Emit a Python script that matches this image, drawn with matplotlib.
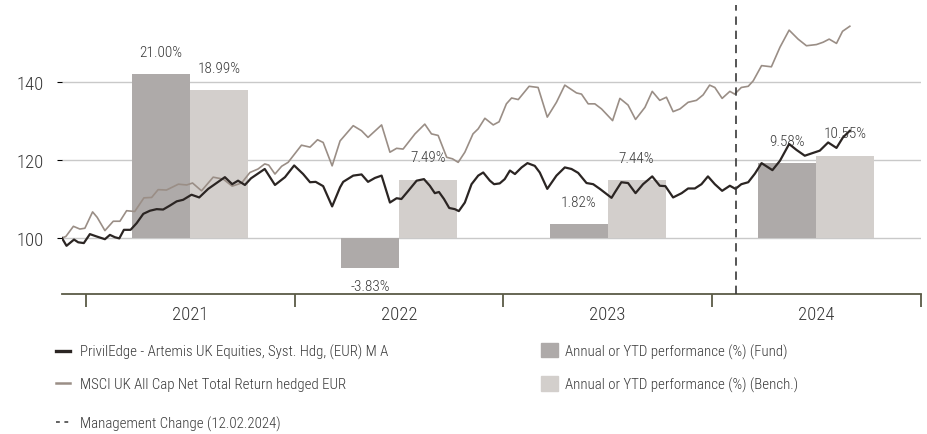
import matplotlib
matplotlib.use("Agg")
import matplotlib.pyplot as plt
from matplotlib import font_manager
from matplotlib.lines import Line2D
from matplotlib.patches import Patch

# pick a narrow sans face if one is installed
installed = {f.name for f in font_manager.fontManager.ttflist}
for name in ["Liberation Sans Narrow", "Roboto Condensed", "Open Sans Condensed", "Liberation Sans"]:
    if name in installed:
        FONT = name
        break
else:
    FONT = "DejaVu Sans"
plt.rcParams["font.family"] = [FONT, "DejaVu Sans"]
plt.rcParams["font.weight"] = "light"

# indexed performance (start = 100), dates as decimal years
fund_dates = [2020.885, 2020.907, 2020.943, 2020.963, 2020.990, 2021.019, 2021.051, 2021.091,
              2021.115, 2021.139, 2021.160, 2021.182, 2021.214, 2021.243, 2021.275, 2021.307,
              2021.339, 2021.370, 2021.402, 2021.435, 2021.466, 2021.506, 2021.543, 2021.586,
              2021.634, 2021.666, 2021.701, 2021.729, 2021.762, 2021.791, 2021.857, 2021.906,
              2021.954, 2021.998, 2022.041, 2022.074, 2022.101, 2022.137, 2022.180, 2022.218,
              2022.233, 2022.281, 2022.321, 2022.352, 2022.385, 2022.417, 2022.457, 2022.489,
              2022.512, 2022.545, 2022.585, 2022.620, 2022.648, 2022.672, 2022.692, 2022.716,
              2022.741, 2022.768, 2022.787, 2022.816, 2022.848, 2022.880, 2022.904, 2022.936,
              2022.956, 2022.983, 2023.007, 2023.032, 2023.056, 2023.088, 2023.116, 2023.151,
              2023.175, 2023.211, 2023.255, 2023.295, 2023.327, 2023.359, 2023.399, 2023.431,
              2023.463, 2023.519, 2023.535, 2023.566, 2023.598, 2023.634, 2023.670, 2023.714,
              2023.750, 2023.777, 2023.814, 2023.855, 2023.886, 2023.918, 2023.950, 2023.981,
              2024.014, 2024.049, 2024.086, 2024.113, 2024.141, 2024.174, 2024.206, 2024.238,
              2024.290, 2024.326, 2024.370, 2024.405, 2024.445, 2024.478, 2024.517, 2024.557,
              2024.597, 2024.628, 2024.661]
fund_index = [100.0, 98.0, 99.6, 98.9, 98.7, 101.0, 100.4, 99.7,
              100.8, 100.2, 99.9, 102.1, 102.1, 103.8, 106.2, 107.0,
              107.4, 107.3, 108.3, 109.4, 109.8, 111.1, 110.4, 112.6,
              114.4, 115.6, 113.8, 114.7, 113.6, 115.3, 117.7, 113.6,
              115.6, 118.6, 116.4, 114.3, 114.4, 113.3, 108.1, 113.0,
              114.4, 116.0, 116.3, 114.4, 115.4, 116.0, 109.1, 110.2,
              110.0, 112.1, 114.7, 115.1, 113.4, 111.5, 111.8, 110.0,
              107.7, 107.4, 106.9, 109.1, 113.8, 116.0, 116.8, 114.7,
              113.8, 114.0, 115.1, 117.3, 116.4, 118.1, 119.2, 118.5,
              116.8, 112.6, 116.0, 118.1, 117.7, 116.7, 114.1, 113.8,
              112.6, 110.3, 111.7, 114.3, 114.1, 111.5, 113.8, 115.8,
              113.4, 113.3, 110.4, 111.5, 112.7, 112.7, 113.8, 115.8,
              113.8, 112.1, 113.4, 112.6, 113.8, 114.3, 116.5, 119.2,
              117.4, 119.8, 124.1, 122.6, 121.1, 121.7, 122.4, 124.5,
              123.1, 125.8, 127.5]

bench_dates = [2020.885, 2020.904, 2020.940, 2020.971, 2020.995, 2021.032, 2021.054, 2021.091,
               2021.131, 2021.163, 2021.195, 2021.234, 2021.278, 2021.315, 2021.346, 2021.386,
               2021.443, 2021.483, 2021.511, 2021.554, 2021.610, 2021.658, 2021.701, 2021.746,
               2021.786, 2021.825, 2021.857, 2021.876, 2021.906, 2021.938, 2021.969, 2022.033,
               2022.074, 2022.110, 2022.137, 2022.180, 2022.218, 2022.281, 2022.321, 2022.352,
               2022.417, 2022.457, 2022.489, 2022.520, 2022.577, 2022.624, 2022.656, 2022.688,
               2022.729, 2022.757, 2022.784, 2022.816, 2022.855, 2022.880, 2022.912, 2022.952,
               2022.980, 2023.015, 2023.040, 2023.072, 2023.124, 2023.167, 2023.211, 2023.255,
               2023.295, 2023.351, 2023.375, 2023.407, 2023.439, 2023.471, 2023.524, 2023.559,
               2023.598, 2023.634, 2023.679, 2023.714, 2023.750, 2023.782, 2023.814, 2023.847,
               2023.886, 2023.926, 2023.958, 2023.989, 2024.014, 2024.049, 2024.086, 2024.109,
               2024.141, 2024.174, 2024.198, 2024.238, 2024.285, 2024.326, 2024.370, 2024.413,
               2024.453, 2024.501, 2024.533, 2024.562, 2024.597, 2024.626, 2024.661]
bench_index = [100.0, 100.4, 103.0, 102.3, 102.5, 106.7, 105.3, 101.9,
               104.3, 104.3, 107.0, 106.8, 110.3, 110.4, 112.4, 112.3,
               113.8, 113.6, 114.1, 112.1, 115.6, 115.1, 113.3, 114.1,
               116.8, 117.7, 119.0, 118.7, 116.4, 118.4, 119.4, 123.8,
               123.3, 125.2, 124.5, 118.5, 124.9, 128.8, 127.5, 125.8,
               129.0, 122.0, 123.0, 122.8, 126.7, 129.2, 126.7, 126.3,
               120.7, 120.3, 119.4, 122.0, 126.7, 128.0, 130.7, 129.0,
               129.8, 134.4, 135.9, 135.5, 138.9, 138.6, 131.0, 134.8,
               139.2, 137.2, 136.9, 134.4, 134.4, 133.1, 130.1, 135.8,
               134.1, 130.4, 133.5, 137.6, 135.3, 136.1, 132.4, 133.1,
               134.8, 135.3, 136.7, 139.2, 138.6, 135.8, 137.6, 136.9,
               138.6, 138.9, 140.3, 144.2, 143.9, 148.9, 153.3, 151.0,
               149.3, 149.6, 150.2, 151.0, 149.9, 153.0, 154.3]

years = [2021, 2022, 2023, 2024]
fund_perf = [21.00, -3.83, 1.82, 9.58]
bench_perf = [18.99, 7.49, 7.44, 10.55]
management_change = 2024.115  # 12.02.2024

fund_label = "PrivilEdge - Artemis UK Equities, Syst. Hdg, (EUR) M A"
bench_label = "MSCI UK All Cap Net Total Return hedged EUR"

FUND_LINE = "#2b2523"
BENCH_LINE = "#9a8e86"
FUND_BAR = "#aeaaa9"
BENCH_BAR = "#d3cfcc"
TEXT = "#383838"

fig = plt.figure(figsize=(9.28, 4.35), dpi=100)
ax = fig.add_axes([0.0665, 0.3218, 0.9255, 0.6667])

# bars live on the percentage scale, lines on the index scale (100 = 0 %)
idx_lim = (85.64, 160.0)
pct_lim = ((idx_lim[0] - 100) / 2, (idx_lim[1] - 100) / 2)
ax.set_xlim(2020.884, 2025.0)
ax.set_ylim(pct_lim)

width = 0.278
centers = [y + 0.5 for y in years]
ax.bar([c - width / 2 for c in centers], fund_perf, width, color=FUND_BAR, zorder=2)
ax.bar([c + width / 2 for c in centers], bench_perf, width, color=BENCH_BAR, zorder=2)

ax.set_yticks([0, 10, 20])
ax.yaxis.grid(True, color="#c9c9c9", linewidth=1.0, zorder=0)
ax.set_axisbelow(True)
ax.tick_params(axis="y", left=False, labelleft=False)

for c, f, b in zip(centers, fund_perf, bench_perf):
    for x, v in ((c - width / 2, f), (c + width / 2, b)):
        off = 16 if v >= 0 else -13
        ax.annotate(f"{v:.2f}%", (x, v), xytext=(0, off), textcoords="offset points",
                    ha="center", va="center", fontsize=11, color=TEXT)

for side in ["top", "right", "left"]:
    ax.spines[side].set_visible(False)
ax.spines["bottom"].set_color("#5b5b47")
ax.spines["bottom"].set_linewidth(1.3)

ax.set_xticks([2021, 2022, 2023, 2024, 2025])
ax.set_xticklabels([])
ax.set_xticks(centers, minor=True)
ax.set_xticklabels([str(y) for y in years], minor=True)
ax.tick_params(axis="x", which="major", length=9, width=1.3, color="#5b5b47", direction="out")
ax.tick_params(axis="x", which="minor", length=0, pad=8, labelsize=13.5, labelcolor=TEXT)

# index lines on a twin axis drawn above the bars
ax_line = ax.twinx()
ax_line.set_ylim(idx_lim)
ax_line.plot(bench_dates, bench_index, color=BENCH_LINE, linewidth=1.2)
ax_line.plot(fund_dates, fund_index, color=FUND_LINE, linewidth=1.6)
ax_line.axvline(management_change, color=TEXT, linewidth=1.2, linestyle=(0, (5, 3.5)), ymax=0.995)
ax_line.yaxis.tick_left()
ax_line.set_yticks([100, 120, 140])
ax_line.tick_params(axis="y", length=0, pad=13, labelsize=13.5, labelcolor=TEXT)
for side in ax_line.spines:
    ax_line.spines[side].set_visible(False)

# legend: index lines, yearly bars, management change
LEG = dict(frameon=False, fontsize=10.7, borderpad=0, borderaxespad=0, labelcolor=TEXT)

line_handles = [Line2D([], [], color=FUND_LINE, linewidth=2.4),
                Line2D([], [], color=BENCH_LINE, linewidth=1.8)]
fig.legend(line_handles, [fund_label, bench_label], loc="center left",
           bbox_to_anchor=(56 / 928, 0.1529), handlelength=0.95, handletextpad=0.65,
           labelspacing=1.2, **LEG)

bar_handles = [Patch(color=FUND_BAR), Patch(color=BENCH_BAR)]
fig.legend(bar_handles, ["Annual or YTD performance (%) (Fund)", "Annual or YTD performance (%) (Bench.)"],
           loc="center left", bbox_to_anchor=(541 / 928, 0.1529), handlelength=1.14,
           handleheight=1.14, handletextpad=0.5, labelspacing=1.2, **LEG)

mgmt_handle = [Line2D([], [], color=TEXT, linewidth=1.1, linestyle=(0, (2.5, 3)))]
fig.legend(mgmt_handle, ["Management Change (12.02.2024)"], loc="center left",
           bbox_to_anchor=(56 / 928, 0.0253), handlelength=0.95, handletextpad=0.65, **LEG)

fig.savefig("out.png", dpi=100)
